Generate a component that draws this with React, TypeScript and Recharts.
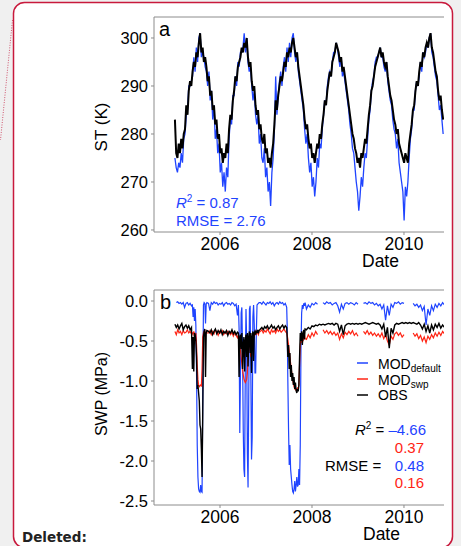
import { LineChart, Line, XAxis, YAxis, ReferenceLine } from 'recharts';

const BLUE = '#1f44ff';
const RED = '#ff2414';
const AXIS = '#8c8c8c';
const FONT = '"Liberation Sans", Arial, sans-serif';

const yearTicks = [2006, 2008, 2010];
const xDomain = [2004.565, 2010.87];
const stTicks = [260, 270, 280, 290, 300];
const stDomain = [259.58, 304.375];
const swpTicks = [0, -0.5, -1, -1.5, -2, -2.5];
const swpDomain = [-2.55, 0.1375];

// surface temperature (K), one value every 10 days from early 2005
const stStart = 2005.02;
const stStepDays = 10;
const stObs = [
  283, 276, 275, 278, 276, 279, 277, 280, 281, 286,
  284, 289, 291, 290, 293, 295, 294, 297, 296, 299,
  301, 297, 298, 295, 296, 294, 291, 292, 288, 289,
  285, 286, 282, 283, 279, 280, 276, 277, 274, 276,
  275, 278, 276, 281, 284, 283, 287, 289, 292, 291,
  294, 295, 296, 298, 297, 299, 298, 300, 296, 294,
  295, 291, 289, 290, 286, 284, 285, 281, 282, 279,
  278, 280, 276, 277, 274, 275, 273, 276, 278, 282,
  287, 285, 288, 290, 292, 291, 293, 295, 294, 297,
  296, 298, 297, 299, 300, 298, 296, 297, 294, 292,
  290, 288, 286, 283, 281, 282, 279, 277, 278, 275,
  276, 274, 276, 278, 277, 280, 279, 282, 284, 287,
  286, 289, 291, 293, 292, 295, 296, 297, 299, 298,
  297, 295, 296, 293, 294, 292, 290, 288, 286, 284,
  282, 280, 279, 277, 276, 274, 275, 273, 276, 275,
  277, 279, 278, 281, 284, 286, 289, 290, 292, 294,
  295, 296, 297, 298, 296, 297, 295, 294, 295, 292,
  290, 288, 287, 285, 283, 282, 280, 281, 278, 277,
  276, 275, 274, 276, 275, 274, 278, 280, 282, 285,
  286, 289, 291, 290, 293, 295, 294, 297, 296, 298,
  299, 298, 300, 301, 298, 297, 295, 293, 292, 289,
  287, 288, 285, 283,
];
const stMod = [
  275, 273, 272, 274, 273, 276, 274, 279, 280, 284,
  285, 290, 290, 291, 292, 296, 293, 298, 295, 300,
  301, 296, 297, 296, 294, 293, 290, 293, 287, 289,
  283, 286, 279, 281, 276, 278, 272, 274, 269, 272,
  268, 273, 271, 279, 283, 282, 288, 288, 292, 290,
  295, 294, 297, 297, 298, 301, 297, 300, 295, 293,
  294, 290, 287, 289, 284, 282, 284, 278, 280, 275,
  274, 277, 271, 273, 268, 270, 265, 272, 275, 281,
  292, 284, 288, 291, 293, 290, 294, 296, 293, 298,
  295, 299, 296, 300, 301, 297, 295, 297, 293, 291,
  289, 287, 285, 281, 278, 280, 275, 272, 274, 269,
  271, 267, 270, 275, 273, 278, 277, 281, 284, 287,
  286, 290, 292, 293, 292, 295, 297, 297, 299, 298,
  296, 294, 296, 292, 293, 291, 289, 287, 285, 282,
  280, 277, 276, 273, 270, 268, 264, 267, 271, 269,
  273, 276, 275, 279, 283, 285, 289, 291, 292, 295,
  296, 296, 297, 298, 296, 296, 294, 293, 295, 291,
  289, 287, 286, 283, 281, 280, 277, 279, 274, 272,
  270, 268, 262, 269, 267, 270, 275, 279, 281, 285,
  285, 289, 291, 290, 292, 295, 293, 297, 296, 297,
  299, 298, 300, 301, 297, 296, 294, 292, 291, 288,
  285, 286, 283, 280,
];

// soil water potential (MPa): finer sampling during the dry spells
const swpSpanStart = [2005.02, 2005.4, 2005.75, 2006.4, 2006.88, 2007.46, 2007.88];
const swpSpanStep = [0.03, 0.015, 0.03, 0.015, 0.03, 0.015, 0.04];

const swpObs = [
  [-0.29, -0.33, -0.3, -0.35, -0.31, -0.28, -0.36, -0.32, -0.3, -0.34, -0.31, -0.36, -0.33],
  [-0.85, -0.45, -0.88, -0.4, -0.42, -0.5, -0.7, -1.1, -1.05, -1.15, -1.25, -1.55, -1.6, -1.85, -2.2, -1.4, -0.45, -0.38, -0.35, -0.95, -0.4, -0.37],
  [-0.38, -0.4, -0.36, -0.42, -0.38, -0.35, -0.41, -0.37, -0.4, -0.36, -0.42, -0.38, -0.4, -0.37, -0.43, -0.38, -0.4, -0.36, -0.41, -0.38, -0.42, -0.39],
  [-0.4, -0.95, -0.45, -0.42, -0.6, -0.4, -0.85, -0.55, -0.45, -0.88, -0.5, -0.42, -0.7, -0.4, -0.82, -0.45, -0.38, -0.65, -0.4, -0.9, -0.45, -0.38, -0.75, -0.4, -0.38, -0.42, -0.37, -0.4, -0.36, -0.39, -0.37],
  [-0.35, -0.33, -0.36, -0.32, -0.34, -0.31, -0.35, -0.33, -0.3, -0.34, -0.32, -0.36, -0.33, -0.31, -0.35, -0.32, -0.3, -0.34, -0.31, -0.33],
  [-0.45, -0.7, -0.55, -0.85, -0.65, -0.95, -0.8, -1.0, -0.9, -1.05, -0.95, -1.1, -1.02, -1.12, -1.15, -1.1, -1.13, -1.05, -0.7, -0.4, -0.5, -0.38, -0.55, -0.42, -0.36, -0.48, -0.35],
  [
    -0.36, -0.33, -0.35, -0.31, -0.32, -0.3, -0.31, -0.29, -0.3, -0.29,
    -0.3, -0.29, -0.28, -0.29, -0.28, -0.3, -0.28, -0.29, -0.38, -0.3,
    -0.42, -0.31, -0.29, -0.28, -0.29, -0.28, -0.29, -0.28, -0.29, -0.28,
    -0.29, -0.28, -0.27, -0.28, -0.29, -0.28, -0.27, -0.28, -0.29, -0.28,
    -0.3, -0.35, -0.29, -0.45, -0.33, -0.59, -0.34, -0.4, -0.3, -0.28,
    -0.29, -0.28, -0.27, -0.28, -0.27, -0.28, -0.27, -0.28, -0.27, -0.28,
    -0.29, -0.27, -0.3, -0.35, -0.29, -0.38, -0.31, -0.4, -0.3, -0.36,
    -0.29, -0.33, -0.28, -0.34, -0.3, -0.33,
  ],
];
const swpSwp = [
  [-0.38, -0.42, -0.36, -0.4, -0.38, -0.42, -0.37, -0.4, -0.39, -0.36, -0.4, -0.38, -0.41],
  [-0.4, -0.42, -0.38, -0.41, -0.44, -0.4, -0.55, -0.8, -0.98, -1.05, -1.07, -1.06, -1.05, -1.06, -0.85, -0.45, -0.4, -0.38, -0.4, -0.42, -0.38, -0.4],
  [-0.4, -0.37, -0.42, -0.38, -0.41, -0.36, -0.39, -0.43, -0.38, -0.4, -0.37, -0.42, -0.39, -0.41, -0.38, -0.4, -0.42, -0.39, -0.44, -0.4, -0.43, -0.46],
  [-0.42, -0.48, -0.55, -0.62, -0.7, -0.78, -0.86, -0.92, -0.97, -1.0, -1.02, -1.0, -0.98, -0.9, -0.7, -0.55, -0.48, -0.6, -0.7, -0.62, -0.5, -0.45, -0.42, -0.4, -0.43, -0.39, -0.41, -0.38, -0.4, -0.42, -0.39],
  [-0.38, -0.36, -0.4, -0.37, -0.39, -0.35, -0.38, -0.41, -0.36, -0.39, -0.37, -0.4, -0.35, -0.38, -0.36, -0.39, -0.37, -0.35, -0.38, -0.4],
  [-0.42, -0.48, -0.55, -0.62, -0.7, -0.78, -0.85, -0.92, -0.98, -1.03, -1.07, -1.1, -1.11, -1.1, -1.11, -1.09, -1.1, -1.05, -0.8, -0.55, -0.48, -0.52, -0.44, -0.5, -0.46, -0.42, -0.47],
  [
    -0.48, -0.42, -0.46, -0.4, -0.44, -0.38, -0.42, null, null, -0.36,
    -0.4, -0.37, -0.41, -0.38, -0.42, -0.39, -0.43, -0.4, -0.48, -0.41,
    -0.46, -0.39, -0.42, -0.38, -0.41, -0.37, -0.43, -0.4, -0.44, null,
    null, -0.38, -0.41, -0.37, -0.42, -0.39, -0.43, -0.4, -0.44, -0.41,
    -0.45, -0.4, -0.47, -0.42, -0.5, -0.55, -0.44, -0.48, -0.41, -0.39,
    -0.43, -0.4, -0.45, -0.42, null, null, null, null, -0.4, -0.44,
    -0.41, -0.47, -0.43, -0.5, -0.45, -0.52, -0.44, -0.48, -0.42, -0.46,
    -0.4, -0.44, -0.39, -0.43, -0.38, -0.41,
  ],
];
const swpDefault = [
  [null, -0.02, -0.01, -0.03, -0.02, -0.04, -0.02, -0.08, -0.03, -0.02, -0.05, -0.03, -0.06],
  [-0.05, -0.2, -0.08, -0.25, -0.1, -0.3, -0.9, -1.8, -2.2, -2.35, -2.38, -2.39, -2.3, -2.38, -2.39, -1.2, -0.05, -0.02, -0.03, -0.28, -0.04, -0.02],
  [-0.03, -0.12, -0.02, -0.04, -0.01, -0.03, -0.02, -0.05, -0.03, -0.04, -0.02, -0.06, -0.03, -0.02, -0.04, -0.03, -0.05, -0.02, -0.03, -0.06, -0.04, -0.18],
  [-0.05, -0.35, -1.65, -0.9, -0.15, -0.08, -0.6, -1.6, -2.1, -2.2, -0.8, -0.1, -0.5, -1.9, -2.33, -1.2, -0.1, -0.06, -0.9, -1.98, -1.7, -0.2, -0.05, -0.3, -0.9, -0.9, -0.4, -0.05, -0.04, -0.03, -0.02],
  [-0.02, -0.04, -0.01, -0.03, -0.05, -0.02, -0.03, -0.01, -0.04, -0.02, -0.06, -0.03, -0.02, -0.04, -0.01, -0.03, -0.02, -0.05, -0.03, -0.08],
  [-0.3, -1.0, -1.6, -2.05, -1.8, -2.1, -2.2, -2.3, -2.38, -2.4, -2.35, -2.25, -2.38, -2.3, -2.2, -2.32, -2.3, -2.1, -2.3, -1.8, -0.6, -0.15, -0.05, -0.1, -0.03, -0.06, -0.02],
  [
    -0.1, -0.05, -0.08, -0.03, -0.05, -0.02, -0.04, null, null, -0.02,
    -0.04, -0.01, -0.03, -0.02, -0.05, -0.03, -0.02, -0.06, -0.14, -0.04,
    -0.1, -0.03, -0.02, -0.04, -0.02, -0.03, -0.05, -0.02, -0.04, null,
    null, -0.03, -0.02, -0.04, -0.01, -0.03, -0.02, -0.05, -0.03, -0.06,
    -0.04, -0.1, -0.05, -0.24, -0.06, -0.18, -0.04, -0.08, -0.02, -0.03,
    -0.01, -0.04, -0.02, -0.03, null, null, null, null, -0.03, -0.06,
    -0.04, -0.08, -0.05, -0.12, -0.07, -0.3, -0.1, -0.18, -0.06, -0.12,
    -0.04, -0.08, -0.03, -0.06, -0.02, -0.05,
  ],
];

const legendItems = [
  { label: 'MOD', sub: 'default', key: 'def' },
  { label: 'MOD', sub: 'swp', key: 'swp' },
  { label: 'OBS', sub: '', key: 'obs' },
];
const legendColor: Record<string, string> = { def: BLUE, swp: RED, obs: '#000' };

const stRows = stObs.map((v, i) => ({
  t: stStart + (i * stStepDays) / 365.25,
  obs: v,
  mod: stMod[i],
}));

const swpRows: { t: number; obs: number | null; swp: number | null; def: number | null }[] = [];
swpSpanStart.forEach((start, s) => {
  const n = Math.max(swpObs[s].length, swpSwp[s].length, swpDefault[s].length);
  for (let i = 0; i < n; i++) {
    swpRows.push({
      t: start + i * swpSpanStep[s],
      obs: swpObs[s][i] ?? null,
      swp: swpSwp[s][i] ?? null,
      def: swpDefault[s][i] ?? null,
    });
  }
});

const xTick = { fill: '#000', fontSize: 17.5 };
const yTick = { fill: '#000', fontSize: 16.5 };

function R2({ x, y, fill, rest }: { x: number; y: number; fill: string; rest: string }) {
  return (
    <text x={x} y={y} fontSize={15} fill={fill}>
      <tspan fontStyle="italic">R</tspan>
      <tspan fontSize={10} dy={-6}>2</tspan>
      <tspan dy={6}>{rest}</tspan>
    </text>
  );
}

export default function App() {
  return (
    <div
      style={{
        position: 'absolute',
        left: 0,
        top: 0,
        width: 461,
        height: 546,
        overflow: 'hidden',
        background: '#f0f0f0',
        fontFamily: FONT,
      }}
    >
      <svg width={461} height={546} style={{ position: 'absolute', left: 0, top: 0 }}>
        <rect x={13.5} y={2.5} width={439} height={545} rx={11} fill="#fff" stroke="#c8193c" strokeWidth={1.5} />
        <line x1={12.5} y1={20} x2={0.5} y2={140} stroke="#d0546e" strokeDasharray="1 1.5" />
      </svg>

      <div style={{ position: 'absolute', left: 0, top: 0 }}>
        <LineChart width={461} height={270} data={stRows} margin={{ top: 17, right: 17, bottom: 8, left: 0 }}>
          <ReferenceLine y={stDomain[1]} stroke={AXIS} />
          <XAxis
            dataKey="t"
            type="number"
            domain={xDomain}
            ticks={yearTicks}
            allowDataOverflow
            height={30}
            stroke={AXIS}
            tickSize={3}
            tickMargin={3}
            tick={xTick}
          />
          <YAxis
            type="number"
            domain={stDomain}
            ticks={stTicks}
            allowDataOverflow
            width={154}
            stroke={AXIS}
            tickSize={3}
            tickMargin={3}
            tick={yTick}
          />
          <Line dataKey="mod" stroke={BLUE} strokeWidth={1.3} dot={false} activeDot={false} isAnimationActive={false} />
          <Line dataKey="obs" stroke="#000" strokeWidth={2} dot={false} activeDot={false} isAnimationActive={false} />
        </LineChart>
      </div>

      <div style={{ position: 'absolute', left: 0, top: 270 }}>
        <LineChart width={461} height={276} data={swpRows} margin={{ top: 20, right: 17, bottom: 11, left: 0 }}>
          <ReferenceLine y={swpDomain[1]} stroke={AXIS} />
          <XAxis
            dataKey="t"
            type="number"
            domain={xDomain}
            ticks={yearTicks}
            allowDataOverflow
            height={30}
            stroke={AXIS}
            tickSize={3}
            tickMargin={3}
            tick={xTick}
          />
          <YAxis
            type="number"
            domain={swpDomain}
            ticks={swpTicks}
            allowDataOverflow
            width={154}
            stroke={AXIS}
            tickSize={3}
            tickMargin={3}
            tick={yTick}
            tickFormatter={(v: number) => v.toFixed(1)}
          />
          <Line dataKey="def" stroke={BLUE} strokeWidth={1.2} dot={false} activeDot={false} isAnimationActive={false} />
          <Line dataKey="swp" stroke={RED} strokeWidth={1.2} dot={false} activeDot={false} isAnimationActive={false} />
          <Line dataKey="obs" stroke="#000" strokeWidth={1.4} dot={false} activeDot={false} isAnimationActive={false} />
        </LineChart>
      </div>

      <svg width={461} height={546} style={{ position: 'absolute', left: 0, top: 0, pointerEvents: 'none' }}>
        <text x={159} y={36} fontSize={20}>a</text>
        <text x={160} y={309} fontSize={20}>b</text>
        <text transform="translate(107,127) rotate(-90)" textAnchor="middle" fontSize={17}>ST (K)</text>
        <text transform="translate(107,394) rotate(-90)" textAnchor="middle" fontSize={16}>SWP (MPa)</text>
        <text x={362} y={267} fontSize={17.5}>Date</text>
        <text x={363} y={540} fontSize={17.5}>Date</text>

        <R2 x={176} y={208} fill={BLUE} rest=" = 0.87" />
        <text x={176} y={226} fontSize={15} fill={BLUE}>RMSE = 2.76</text>

        {legendItems.map((item, i) => (
          <g key={item.key}>
            <line x1={357} x2={368} y1={363 + i * 16} y2={363 + i * 16} stroke={legendColor[item.key]} strokeWidth={1.5} />
            <text x={378} y={369 + i * 15.5} fontSize={14}>
              {item.label}
              {item.sub && (
                <tspan fontSize={10} dy={3}>{item.sub}</tspan>
              )}
            </text>
          </g>
        ))}

        <R2 x={355} y={435} fill="#000" rest=" = " />
        <text x={426} y={435} fontSize={15} textAnchor="end" fill={BLUE}>–4.66</text>
        <text x={424} y={453} fontSize={15} textAnchor="end" fill={RED}>0.37</text>
        <text x={325} y={471} fontSize={15}>RMSE =</text>
        <text x={424} y={471} fontSize={15} textAnchor="end" fill={BLUE}>0.48</text>
        <text x={424} y={488} fontSize={15} textAnchor="end" fill={RED}>0.16</text>

        <text x={22} y={542} fontSize={13.5} fontWeight="bold" fontFamily='"DejaVu Sans", Verdana, sans-serif' fill="#222">
          Deleted:
        </text>
      </svg>
    </div>
  );
}
